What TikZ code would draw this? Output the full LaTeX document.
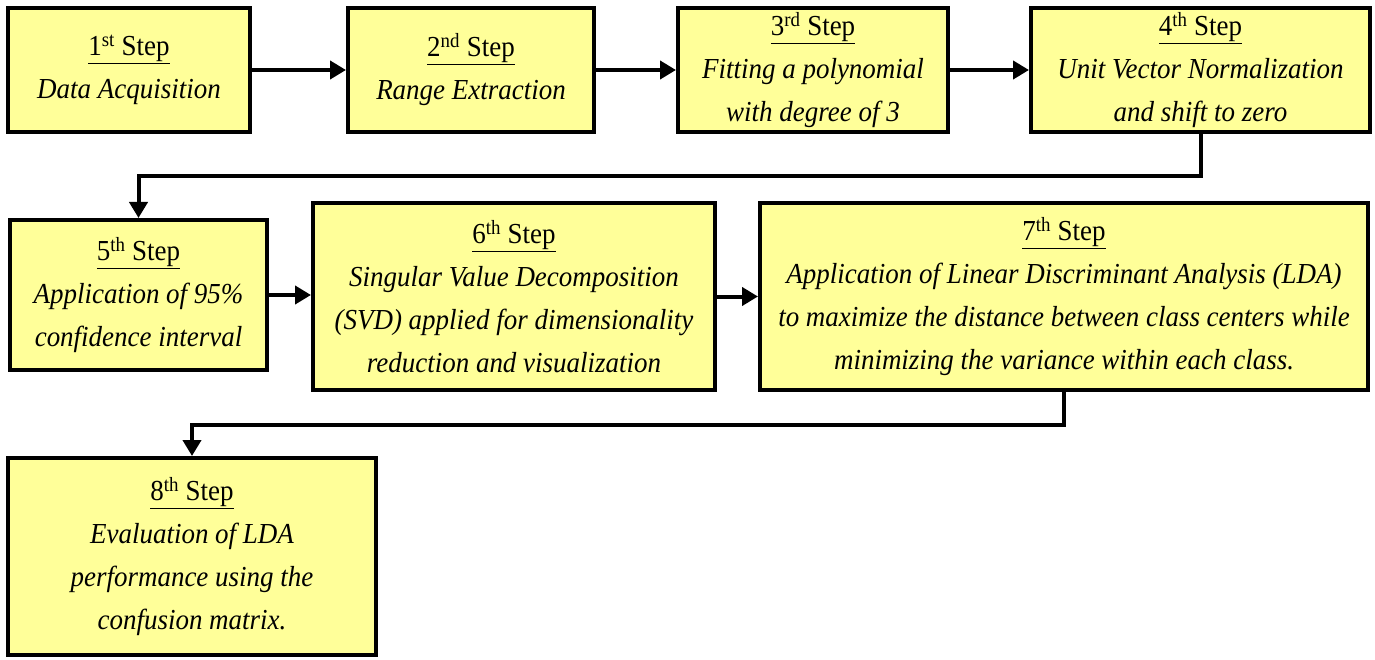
\documentclass[tikz,border=0pt]{standalone}
\usepackage{fontspec}
\setmainfont{Liberation Serif}[FakeStretch=0.93]
\usetikzlibrary{arrows.meta}
\definecolor{boxfill}{RGB}{255,255,153}
\tikzset{
  stepbox/.style={draw=black, line width=4pt, fill=boxfill, align=center,
    inner sep=2pt, font=\fontsize{29}{43}\selectfont\itshape},
  flow/.style={line width=4pt, -{Triangle[length=16pt,width=18pt]}},
}
\newcommand{\stephead}[2]{{\upshape\underline{#1\textsuperscript{#2} Step}}}
\begin{document}
\begin{tikzpicture}[x=1pt,y=-1pt]
\useasboundingbox (0,0) rectangle (1375,660);
\node[stepbox, minimum width=242pt, minimum height=124pt] (n1) at (129,70)
  {\stephead{1}{st}\\Data Acquisition};
\node[stepbox, minimum width=246pt, minimum height=124pt] (n2) at (471,70)
  {\stephead{2}{nd}\\Range Extraction};
\node[stepbox, minimum width=270pt, minimum height=124pt] (n3) at (813,70)
  {\stephead{3}{rd}\\Fitting a polynomial\\with degree of 3};
\node[stepbox, minimum width=339pt, minimum height=124pt] (n4) at (1200.5,70)
  {\stephead{4}{th}\\Unit Vector Normalization\\and shift to zero};
\node[stepbox, minimum width=257pt, minimum height=150pt] (n5) at (138.5,295)
  {\stephead{5}{th}\\Application of 95\%\\confidence interval};
\node[stepbox, minimum width=402pt, minimum height=187pt] (n6) at (514,296.5)
  {\stephead{6}{th}\\Singular Value Decomposition\\(SVD) applied for dimensionality\\reduction and visualization};
\node[stepbox, minimum width=608pt, minimum height=187pt] (n7) at (1064,296.5)
  {\stephead{7}{th}\\Application of Linear Discriminant Analysis (LDA)\\to maximize the distance between class centers while\\minimizing the variance within each class.};
\node[stepbox, minimum width=368pt, minimum height=197pt] (n8) at (192,556.5)
  {\stephead{8}{th}\\Evaluation of LDA\\performance using the\\confusion matrix.};
\draw[flow] (n1.east) -- (n2.west);
\draw[flow] (n2.east) -- (n3.west);
\draw[flow] (n3.east) -- (n4.west);
\coordinate (b1) at (1200.5,176);
\draw[flow] (n4.south) -- (b1) -| (n5.north);
\draw[flow] (n5.east) -- (n5.east -| n6.west);
\draw[flow] (n6.east) -- (n7.west);
\coordinate (b2) at (1064,425);
\draw[flow] (n7.south) -- (b2) -| (n8.north);
\end{tikzpicture}
\end{document}
